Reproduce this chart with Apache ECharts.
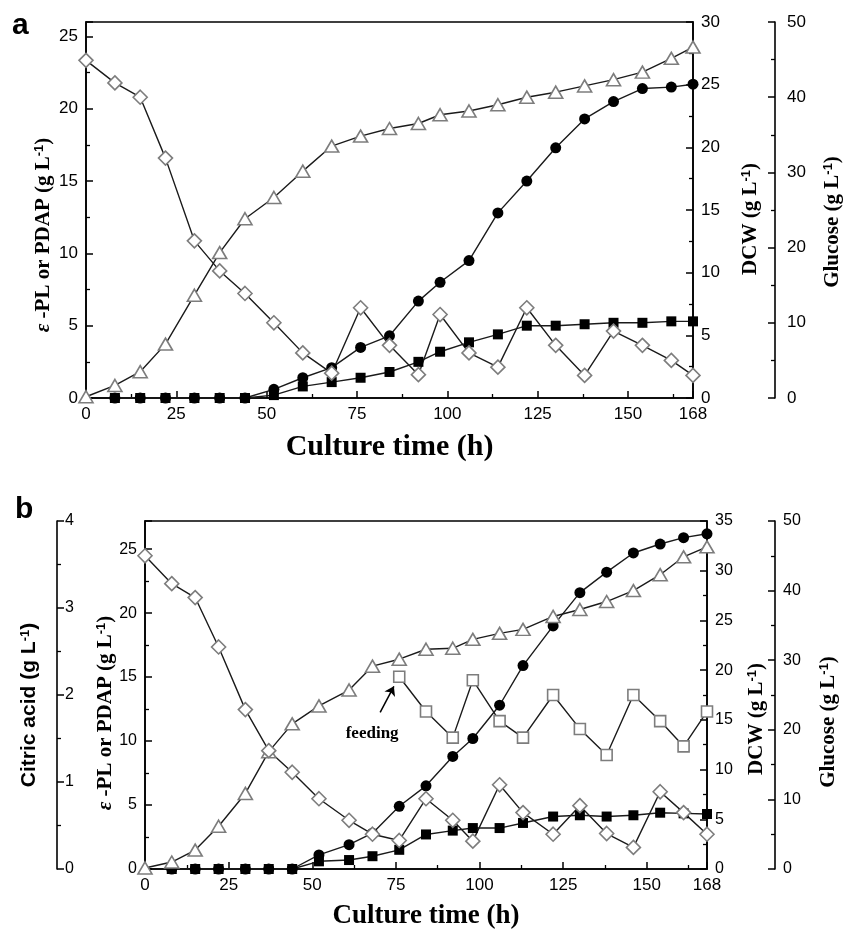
<!DOCTYPE html>
<html lang="en">
<head>
  <meta charset="UTF-8">
  <title>Fed-batch culture time course</title>
  <script src="https://cdn.jsdelivr.net/npm/echarts@6/dist/echarts.min.js"></script>
  <style>body{margin:0;background:#fff}</style>
</head>
<body>
  <div id="main" style="width:843px;height:929px"></div>
  <script>
  // panel a
  const hoursA   = [0, 8, 15, 22, 30, 37, 44, 52, 60, 68, 76, 84, 92, 98, 106, 114, 122, 130, 138, 146, 154, 162, 168];
  const epslA    = [null, 0, 0, 0, 0, 0, 0, 0.6, 1.4, 2.1, 3.5, 4.3, 6.7, 8.0, 9.5, 12.8, 15.0, 17.3, 19.3, 20.5, 21.4, 21.5, 21.7];
  const pdapA    = [null, 0, 0, 0, 0, 0, 0, 0.2, 0.8, 1.1, 1.4, 1.8, 2.5, 3.2, 3.85, 4.4, 5.0, 5.0, 5.1, 5.2, 5.2, 5.3, 5.3];
  const dcwA     = [0.1, 1.0, 2.1, 4.3, 8.2, 11.6, 14.3, 16.0, 18.1, 20.1, 20.9, 21.5, 21.9, 22.6, 22.9, 23.4, 24.0, 24.4, 24.9, 25.4, 26.0, 27.1, 28.0];
  const glucoseA = [44.9, 41.9, 40.0, 31.9, 20.9, 16.9, 13.9, 10.0, 6.0, 3.3, 12.0, 7.0, 3.1, 11.1, 6.0, 4.1, 12.0, 7.0, 3.0, 8.9, 7.0, 5.0, 3.0];

  // panel b
  const hoursB   = [0, 8, 15, 22, 30, 37, 44, 52, 61, 68, 76, 84, 92, 98, 106, 113, 122, 130, 138, 146, 154, 161, 168];
  const epslB    = [null, 0, 0, 0, 0, 0, 0, 1.1, 1.9, 2.8, 4.9, 6.5, 8.8, 10.2, 12.8, 15.9, 19.0, 21.6, 23.2, 24.7, 25.4, 25.9, 26.2];
  const pdapB    = [null, 0, 0, 0, 0, 0, 0, 0.6, 0.7, 1.0, 1.5, 2.7, 3.0, 3.2, 3.2, 3.6, 4.1, 4.2, 4.1, 4.2, 4.4, 4.35, 4.3];
  const dcwB     = [0.1, 0.7, 1.9, 4.3, 7.6, 11.8, 14.6, 16.4, 18.0, 20.4, 21.1, 22.1, 22.2, 23.1, 23.7, 24.1, 25.4, 26.1, 26.9, 28.0, 29.6, 31.4, 32.4];
  const glucoseB = [45.0, 41.0, 39.0, 31.9, 22.9, 17.0, 13.9, 10.1, 7.0, 5.0, 4.1, 10.1, 7.0, 4.0, 12.1, 8.1, 5.0, 9.1, 5.1, 3.1, 11.1, 8.1, 5.0];
  const citricB  = [null, null, null, null, null, null, null, null, null, null, 2.21, 1.81, 1.51, 2.17, 1.70, 1.51, 2.0, 1.61, 1.31, 2.0, 1.70, 1.41, 1.81];

  // "feeding" note, in (h, citric acid) units
  const feedArrow = [[70.3, 1.80], [74.4, 2.10]];
  const feedText  = [67.9, 1.56];

  const serif = 'Liberation Serif', sans = 'Liberation Sans';
  const pts = (xs, ys) => xs.map((x, i) => [x, ys[i]]).filter(p => p[1] !== null);

  const unitRich = size => ({
    i: {fontStyle: 'italic', fontFamily: serif, fontWeight: 'bold', fontSize: size, color: '#000'},
    s: {fontFamily: sans, fontWeight: 'bold', fontSize: Math.round(size * 0.62), verticalAlign: 'top', color: '#000'}
  });

  function xAx(grid, nameSize, gap) {
    return {
      gridIndex: grid, type: 'value', min: 0, max: 168, interval: 25,
      name: 'Culture time (h)', nameLocation: 'middle', nameGap: gap, nameMoveOverlap: false,
      nameTextStyle: {fontFamily: serif, fontWeight: 'bold', fontSize: nameSize, color: '#000'},
      axisLine: {onZero: false, lineStyle: {color: '#000', width: 1.6}},
      axisTick: {inside: true, length: 7, lineStyle: {color: '#000', width: 1.5}},
      minorTick: {show: true, splitNumber: 2, length: 4, lineStyle: {color: '#000', width: 1.3}},
      splitLine: {show: false},
      axisLabel: {showMaxLabel: true, fontFamily: sans, fontSize: 17, color: '#000', margin: 8}
    };
  }

  function yAx(o) {
    return {
      gridIndex: o.grid, type: 'value', position: o.pos, offset: o.offset || 0,
      min: 0, max: o.max, interval: o.step,
      name: o.name, nameLocation: 'middle', nameRotate: 90, nameGap: o.gap, nameMoveOverlap: false,
      nameTextStyle: {fontFamily: o.nameFont || serif, fontWeight: 'bold', fontSize: o.nameSize, color: '#000',
        padding: [0, o.shift || 0, 0, 0], rich: unitRich(o.nameSize)},
      axisLine: {show: true, onZero: false, lineStyle: {color: '#000', width: 1.6}},
      axisTick: {show: true, inside: true, length: 7, lineStyle: {color: '#000', width: 1.5}},
      minorTick: {show: true, splitNumber: 2, length: 4, lineStyle: {color: '#000', width: 1.3}},
      splitLine: {show: false},
      axisLabel: {inside: !!o.labelInside, showMaxLabel: o.hideMax ? false : true, fontFamily: sans,
        fontSize: o.labelSize || 17, color: '#000', margin: o.margin || 8}
    };
  }

  const diamond = 'path://M0,-10L10,0L0,10L-10,0Z';
  function ser(xi, yi, data, symbol, size, filled) {
    return {
      type: 'line', xAxisIndex: xi, yAxisIndex: yi, data: data, symbol: symbol, symbolSize: size,
      showAllSymbol: true, clip: false, silent: true,
      lineStyle: {color: '#1a1a1a', width: 1.4},
      itemStyle: filled ? {color: '#000'} : {color: '#fff', borderColor: '#7d7d7d', borderWidth: 1.6},
      emphasis: {disabled: true}
    };
  }

  const chart = echarts.init(document.getElementById('main'));
  const citric = ser(1, 4, pts(hoursB, citricB), 'rect', 11, false);
  citric.markLine = {
    silent: true, symbol: ['none', 'arrow'], symbolSize: 9,
    lineStyle: {color: '#000', width: 1.5, type: 'solid'}, label: {show: false},
    data: [[{coord: feedArrow[0]}, {coord: feedArrow[1]}]]
  };
  citric.markPoint = {
    silent: true, symbol: 'circle', symbolSize: 1, itemStyle: {color: 'rgba(0,0,0,0)'},
    label: {show: true, position: 'inside', formatter: 'feeding', fontFamily: serif, fontWeight: 'bold', fontSize: 17, color: '#000'},
    data: [{coord: feedText}]
  };

  chart.setOption({
    animation: false,
    title: [
      {text: 'a', left: 7, top: 6, textStyle: {fontFamily: sans, fontWeight: 'bold', fontSize: 30, color: '#000'}},
      {text: 'b', left: 10, top: 490, textStyle: {fontFamily: sans, fontWeight: 'bold', fontSize: 30, color: '#000'}}
    ],
    grid: [
      {left: 86, top: 22, width: 607, height: 376, show: true, borderColor: '#000', borderWidth: 1.6, outerBoundsMode: 'none'},
      {left: 145, top: 521, width: 562, height: 348, show: true, borderColor: '#000', borderWidth: 1.6, outerBoundsMode: 'none'}
    ],
    xAxis: [xAx(0, 30, 34), xAx(1, 27, 34)],
    yAxis: [
      yAx({grid: 0, pos: 'left', max: 26, step: 5, hideMax: true, name: '{i|ε} -PL or PDAP (g L{s|-1})', nameSize: 21, gap: 32, shift: 50}),
      yAx({grid: 0, pos: 'right', max: 30, step: 5, name: 'DCW (g L{s|-1})', nameSize: 21, gap: 47, shift: 18}),
      yAx({grid: 0, pos: 'right', offset: 82, max: 50, step: 10, name: 'Glucose (g L{s|-1})', nameSize: 21, gap: 47, shift: 24, margin: 12}),
      yAx({grid: 1, pos: 'left', max: 27.2, step: 5, hideMax: true, name: '{i|ε} -PL or PDAP (g L{s|-1})', nameSize: 21, gap: 29, shift: 36, labelSize: 16}),
      yAx({grid: 1, pos: 'left', offset: 88, max: 4, step: 1, labelInside: true, name: 'Citric acid (g L{s|-1})', nameFont: sans, nameSize: 21, gap: 17, shift: 20, labelSize: 16}),
      yAx({grid: 1, pos: 'right', max: 35, step: 5, name: 'DCW (g L{s|-1})', nameSize: 21, gap: 39, shift: 48, labelSize: 16}),
      yAx({grid: 1, pos: 'right', offset: 68, max: 50, step: 10, name: 'Glucose (g L{s|-1})', nameSize: 21, gap: 43, shift: 54, labelSize: 16})
    ],
    series: [
      ser(0, 0, pts(hoursA, epslA), 'circle', 11, true),
      ser(0, 0, pts(hoursA, pdapA), 'rect', 10, true),
      ser(0, 1, pts(hoursA, dcwA), 'triangle', [14, 12], false),
      ser(0, 2, pts(hoursA, glucoseA), diamond, [14, 14], false),
      ser(1, 3, pts(hoursB, epslB), 'circle', 11, true),
      ser(1, 3, pts(hoursB, pdapB), 'rect', 10, true),
      citric,
      ser(1, 5, pts(hoursB, dcwB), 'triangle', [14, 12], false),
      ser(1, 6, pts(hoursB, glucoseB), diamond, [14, 14], false)
    ]
  });
  </script>
</body>
</html>
